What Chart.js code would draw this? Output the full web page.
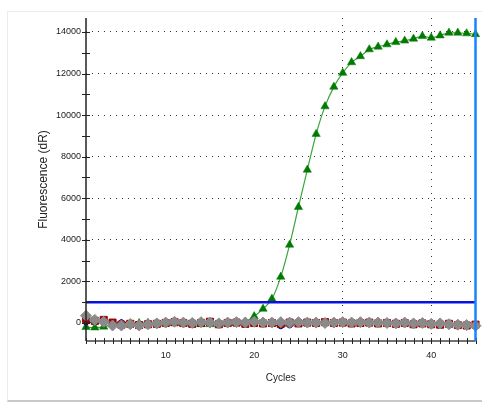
<!DOCTYPE html>
<html>
<head>
<meta charset="utf-8">
<script src="https://cdn.jsdelivr.net/npm/chart.js@4.4.0/dist/chart.umd.min.js"></script>
<style>
  html, body { margin: 0; padding: 0; background: #fff; }
  body { width: 482px; height: 403px; position: relative; overflow: hidden; }
  .frame {
    position: absolute; left: 7px; top: 11px; width: 490px; height: 388px;
    border: 1px solid #ececec; border-bottom: 2px solid #c8c8c8;
  }
  #chart { position: absolute; left: 0; top: 0; }
</style>
</head>
<body>
<div class="frame"></div>
<canvas id="chart" width="482" height="403"></canvas>
<script>
// cycle numbers (x)
const cycles = [1, 2, 3, 4, 5, 6, 7, 8, 9, 10, 11, 12, 13, 14, 15, 16, 17, 18, 19, 20,
  21, 22, 23, 24, 25, 26, 27, 28, 29, 30, 31, 32, 33, 34, 35, 36, 37, 38, 39, 40,
  41, 42, 43, 44, 45];

// amplifying sample (green triangles)
const sampleDR = [-200, -220, -180, -60, -40, -20, -10, 0, -20, 0, -10, -30, -40, -60, -60, -40, -20, 0, 60, 320,
  680, 1160, 2220, 3760, 5580, 7370, 9090, 10420, 11360, 12030, 12540, 12830, 13160, 13290, 13400, 13510, 13580, 13670, 13800, 13720,
  13830, 13960, 13960, 13930, 13890];

// flat wells
const grayDR = [350, 150, 60, -120, -120, -60, -120, -60, -20, 20, 60, 20, 0, 40, 20, -20, 20, 40, 20, 60,
  20, 20, 40, 20, 40, 20, 20, 0, 20, 40, 20, 40, 20, 20, 0, -20, 20, -20, 0, -40,
  -20, -60, -80, -100, -130];
const redDR = [200, 100, 150, 20, -80, -40, -100, -60, -40, 0, 40, 0, -40, 0, 60, -60, 0, 20, -40, 0,
  -20, 0, -40, 20, -20, 20, 0, 40, 0, 20, -20, 0, 20, -20, 0, -40, 0, -60, -20, -60,
  -80, -40, -100, -120, -80];
const blueDR = [20, 40, 0, -40, 40, 0, -60, 20, 0, 40, 60, 0, 60, 80, 40, -40, 60, 40, 20, 20,
  0, -60, -160, -120, 20, 40, 60, 20, 40, 60, 40, 20, 40, 60, 20, 60, 40, 20, 40, 0,
  20, -20, -40, -60, -100];

// axis ticks
const xTicks = cycles;
const xLabels = [10, 20, 30, 40];
const xGridAt = [30, 40];
const yTicks = [0, 1000, 2000, 3000, 4000, 5000, 6000, 7000, 8000, 9000, 10000, 11000, 12000, 13000, 14000];
const yLabels = [0, 2000, 4000, 6000, 8000, 10000, 12000, 14000];

const threshold = 1000;
const cursorCycle = 45;

const pts = arr => arr.map((v, i) => ({ x: cycles[i], y: v }));

const tickFont = { family: 'Liberation Sans, Arial, sans-serif', size: 9 };

const overlay = {
  id: 'overlay',
  afterDatasetsDraw(chart) {
    const { ctx, chartArea: a, scales: { x, y } } = chart;
    const seg = (x1, y1, x2, y2) => { ctx.beginPath(); ctx.moveTo(x1, y1); ctx.lineTo(x2, y2); ctx.stroke(); };
    ctx.save();

    // threshold line
    const ty = y.getPixelForValue(threshold);
    ctx.strokeStyle = '#0a10e0';
    ctx.lineWidth = 2.5;
    seg(a.left, ty, a.right, ty);

    // axis lines and tick marks
    ctx.strokeStyle = '#222';
    ctx.lineWidth = 1.5;
    seg(a.left, a.top, a.left, a.bottom);
    ctx.strokeStyle = '#444';
    seg(a.left, a.bottom, a.right, a.bottom);
    ctx.lineWidth = 1;
    ctx.strokeStyle = '#222';
    yTicks.forEach(v => {
      const py = Math.round(y.getPixelForValue(v)) + 0.5;
      seg(a.left - 4, py, a.left + 4, py);
    });
    xTicks.forEach(v => {
      const px = Math.round(x.getPixelForValue(v)) + 0.5;
      seg(px, a.bottom - 3, px, a.bottom + 3);
    });

    // cursor line
    const cx = x.getPixelForValue(cursorCycle);
    ctx.strokeStyle = '#1585ff';
    ctx.lineWidth = 2.5;
    seg(cx, a.top, cx, a.bottom);

    ctx.restore();
  }
};

new Chart(document.getElementById('chart').getContext('2d'), {
  type: 'line',
  data: {
    datasets: [
      {
        label: 'Well 4',
        data: pts(grayDR),
        borderColor: '#8a8a8a',
        backgroundColor: '#8a8a8a',
        borderWidth: 1,
        pointStyle: 'rectRot',
        pointRadius: 5.5,
        clip: false
      },
      {
        label: 'Well 3',
        data: pts(redDR),
        borderColor: '#9a0000',
        backgroundColor: '#9a0000',
        borderWidth: 1,
        pointStyle: 'rect',
        pointRadius: 5,
        clip: false
      },
      {
        label: 'Well 2',
        data: pts(blueDR),
        borderColor: '#00009a',
        backgroundColor: '#00009a',
        borderWidth: 1,
        pointStyle: 'circle',
        pointRadius: 2.5,
        clip: false
      },
      {
        label: 'Well 1',
        data: pts(sampleDR),
        borderColor: '#3aa53a',
        backgroundColor: '#007a00',
        pointBorderColor: '#007a00',
        pointBorderWidth: 0.5,
        borderWidth: 1.2,
        pointStyle: 'triangle',
        pointRadius: 4.8,
        cubicInterpolationMode: 'monotone',
        clip: false
      }
    ]
  },
  options: {
    responsive: false,
    animation: false,
    devicePixelRatio: 1,
    layout: { padding: { left: 0, right: 5, top: 18, bottom: 0 } },
    plugins: {
      legend: { display: false },
      tooltip: { enabled: false }
    },
    scales: {
      x: {
        type: 'linear',
        min: 1,
        max: 45,
        afterBuildTicks: s => { s.ticks = xTicks.map(v => ({ value: v })); },
        afterFit: s => { s.height = 62; s.paddingLeft = 0; s.paddingRight = 0; },
        ticks: {
          autoSkip: false,
          maxRotation: 0,
          padding: 9,
          color: '#1a1a1a',
          font: tickFont,
          callback: v => (xLabels.includes(v) ? String(v) : '')
        },
        grid: {
          drawTicks: false,
          lineWidth: 1,
          color: c => (c.tick && xGridAt.includes(c.tick.value) ? '#333' : 'transparent')
        },
        border: { display: false, dash: [1, 6] },
        title: {
          display: true,
          text: 'Cycles',
          color: '#222',
          font: { family: 'Liberation Sans, Arial, sans-serif', size: 10 },
          padding: { top: 0, bottom: 19 }
        }
      },
      y: {
        type: 'linear',
        min: -866,
        max: 14673,
        afterBuildTicks: s => { s.ticks = yTicks.map(v => ({ value: v })); },
        afterFit: s => { s.width = 86; },
        ticks: {
          padding: 5,
          color: '#1a1a1a',
          font: tickFont,
          callback: v => (yLabels.includes(v) ? String(v) : '')
        },
        grid: {
          drawTicks: false,
          lineWidth: 1,
          color: c => (c.tick && c.tick.value > 0 && yLabels.includes(c.tick.value) ? '#333' : 'transparent')
        },
        border: { display: false, dash: [1, 5] },
        title: {
          display: true,
          text: 'Fluorescence (dR)',
          color: '#222',
          font: { family: 'Liberation Sans, Arial, sans-serif', size: 12 },
          padding: { top: 36, bottom: 0 }
        }
      }
    }
  },
  plugins: [overlay]
});
</script>
</body>
</html>
